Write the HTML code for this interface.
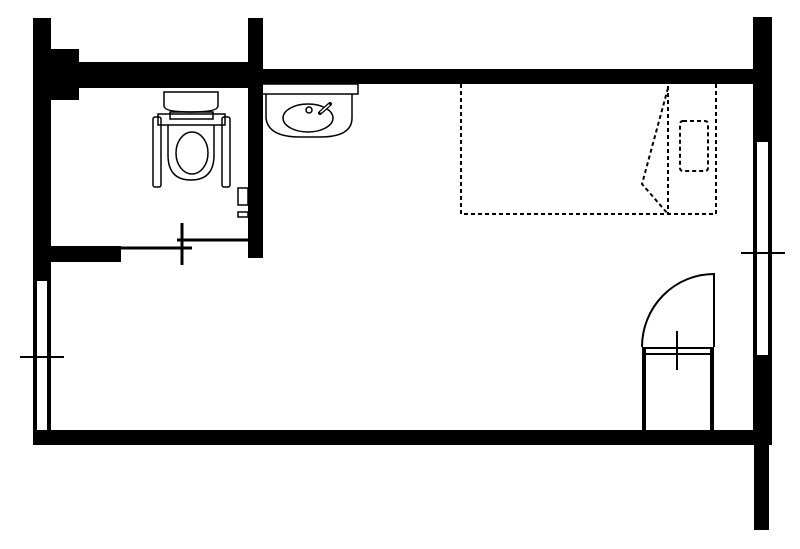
<!DOCTYPE html>
<html><head><meta charset="utf-8"><style>html,body{margin:0;padding:0;background:#fff}svg{display:block}</style></head>
<body>
<svg width="800" height="549" viewBox="0 0 800 549" xmlns="http://www.w3.org/2000/svg">
<rect width="800" height="549" fill="#fff"/>
<g fill="#000">
  <rect x="33" y="18" width="18" height="263"/>
  <rect x="33" y="281" width="4" height="164"/>
  <rect x="47" y="281" width="4" height="150"/>
  <rect x="51" y="49" width="28" height="51"/>
  <rect x="51" y="62" width="197" height="26"/>
  <rect x="248" y="18" width="15" height="240"/>
  <rect x="263" y="69" width="490" height="15"/>
  <rect x="753" y="17" width="19" height="125"/>
  <rect x="753" y="142" width="4" height="213"/>
  <rect x="768" y="142" width="4" height="213"/>
  <rect x="753" y="355" width="19" height="90"/>
  <rect x="754" y="445" width="15" height="85"/>
  <rect x="33" y="430" width="720" height="15"/>
  <rect x="51" y="246" width="70" height="16"/>
  <rect x="642" y="347" width="4" height="83"/>
  <rect x="710" y="347" width="4" height="83"/>
</g>
<g stroke="#000" fill="none" stroke-width="2">
  <line x1="20" y1="357" x2="64" y2="357"/>
  <line x1="741" y1="253" x2="785" y2="253"/>
  <line x1="121" y1="248" x2="192" y2="248" stroke-width="3"/>
  <line x1="177" y1="240" x2="248" y2="240" stroke-width="3"/>
  <line x1="182" y1="223" x2="182" y2="265" stroke-width="3"/>
  <line x1="642" y1="348" x2="714" y2="348"/>
  <line x1="642" y1="354" x2="714" y2="354"/>
  <path d="M642 347 A72 73 0 0 1 714 274 L714 347"/>
  <line x1="677" y1="331" x2="677" y2="370"/>
  <path d="M263 84 H358 V94 H263" stroke-width="1.5"/>
  <path d="M266 94 V118 Q268 137 300 137 H320 Q352 137 352 118 V94" stroke-width="1.5"/>
  <ellipse cx="308" cy="118" rx="25" ry="14" stroke-width="1.5"/>
  <circle cx="309" cy="110" r="3" stroke-width="1.5"/>
  <path d="M320 113 L330 104" stroke-width="4" stroke-linecap="round"/>
  <path d="M321 112 L329 105" stroke="#fff" stroke-width="1.5" stroke-linecap="round"/>
  <path d="M164 92 H218 V106 Q218 112 191 112 Q164 112 164 106 Z" stroke-width="1.5"/>
  <rect x="158" y="114" width="67" height="11" stroke-width="1.5"/>
  <rect x="170" y="112" width="43" height="7" stroke-width="1.5"/>
  <rect x="153" y="117" width="8" height="70" rx="2" stroke-width="1.5"/>
  <rect x="222" y="117" width="8" height="70" rx="2" stroke-width="1.5"/>
  <path d="M168 125 V155 Q168 180 191 180 Q214 180 214 155 V125" stroke-width="1.5"/>
  <ellipse cx="192" cy="153" rx="16" ry="21" stroke-width="1.5"/>
  <rect x="238" y="188" width="10" height="17" stroke-width="1.5"/>
  <rect x="238" y="212" width="10" height="5" stroke-width="1.5"/>
  <g stroke-dasharray="4,3">
    <path d="M461 84 V214 H716 V84"/>
    <line x1="668" y1="86" x2="668" y2="214"/>
    <path d="M668 88 L642 184 L668 214"/>
    <rect x="680" y="121" width="28" height="50" rx="3"/>
  </g>
</g>
</svg>
</body></html>
